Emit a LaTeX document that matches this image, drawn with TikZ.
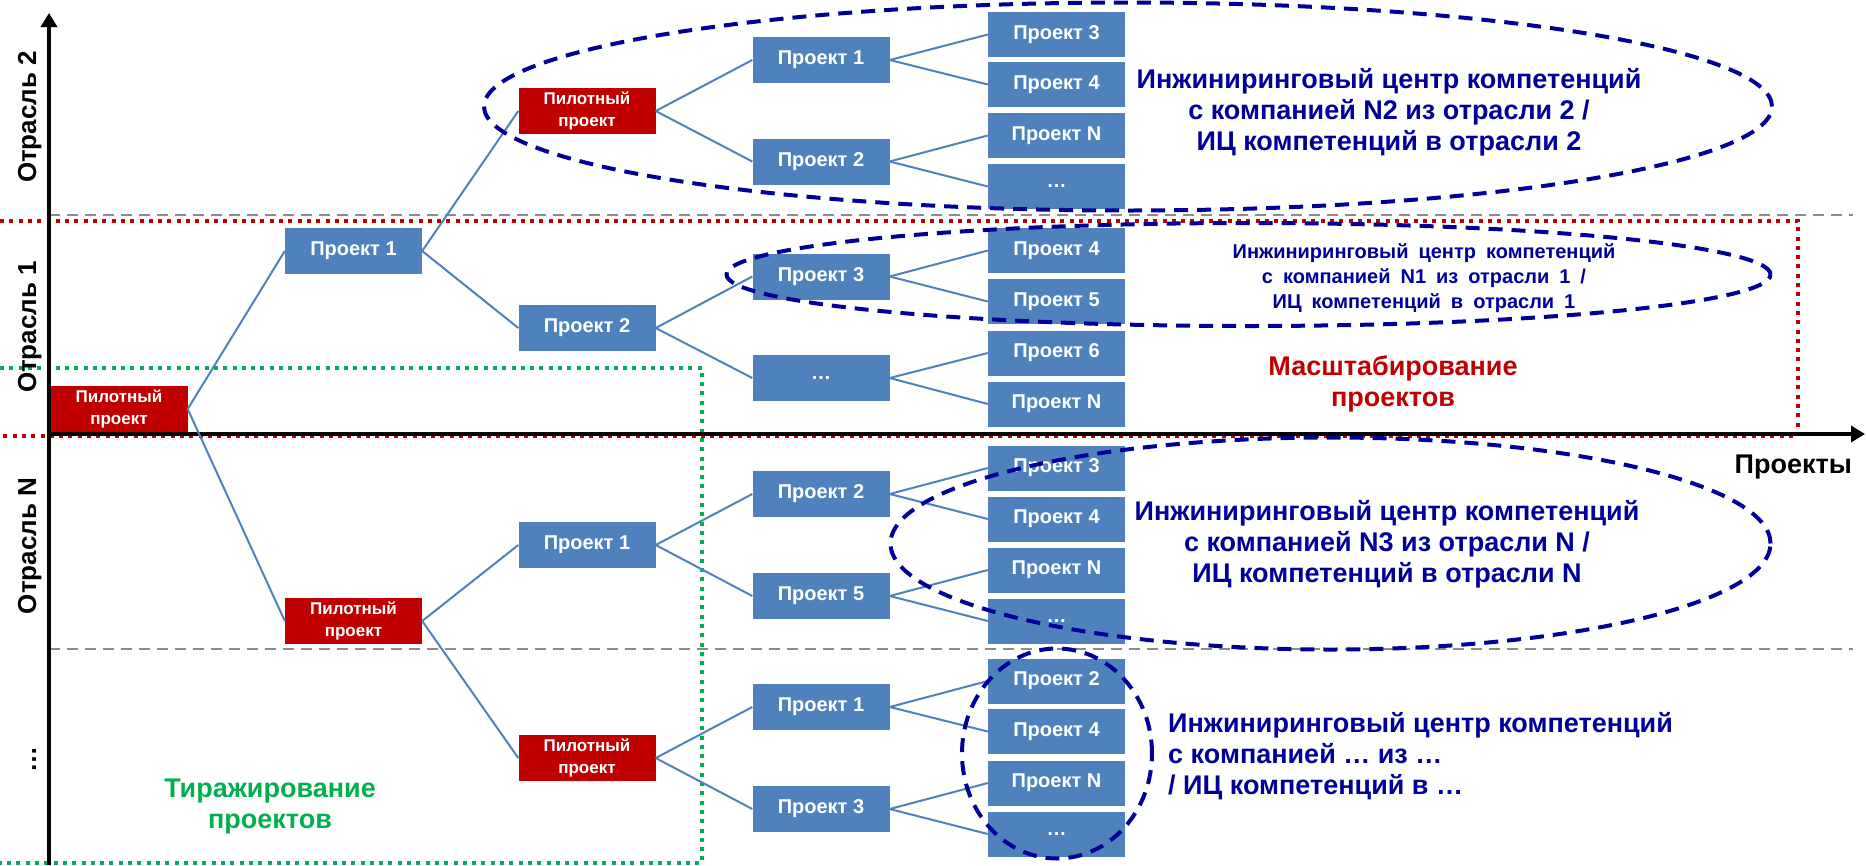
\documentclass[tikz,border=0pt]{standalone}
\usepackage{fontspec}
\setmainfont{Liberation Sans}
\usetikzlibrary{arrows.meta}
\definecolor{boxblue}{HTML}{4F81BD}
\definecolor{pilotred}{HTML}{C00000}
\definecolor{navy}{HTML}{000099}
\definecolor{grn}{HTML}{00B050}
\definecolor{gry}{HTML}{8C8C8C}
\newlength{\widespace}
\setlength{\widespace}{10pt}
\begin{document}
\begin{tikzpicture}[x=1pt,y=-1pt,
  proj/.style={rectangle, fill=boxblue, minimum width=137pt, minimum height=46pt, inner sep=0pt, text=white, font=\bfseries\fontsize{20}{24}\selectfont},
  leaf/.style={proj, minimum height=45pt},
  pilot/.style={proj, fill=pilotred, align=center, font=\bfseries\fontsize{17}{22}\selectfont},
  conn/.style={draw=boxblue, line width=2pt},
  axisline/.style={line width=3.5pt, -{Triangle[length=14pt,width=16pt]}},
  reddot/.style={draw=pilotred, line width=3.5pt, dash pattern=on 4pt off 5.3pt},
  grndot/.style={draw=grn, line width=3.5pt, dash pattern=on 4pt off 5.3pt},
  grydash/.style={draw=gry, line width=2.5pt, dash pattern=on 11pt off 7pt},
  hub/.style={draw=navy, line width=4pt, dash pattern=on 14pt off 9pt},
  hubtext/.style={text=navy, font=\bfseries\fontsize{27}{31}\selectfont, inner sep=0pt, anchor=base},
  smalltext/.style={text=navy, font=\bfseries\fontsize{20}{25}\selectfont, inner sep=0pt, anchor=base},
  sidelab/.style={rotate=90, anchor=base, inner sep=0pt, font=\bfseries\fontsize{26}{30}\selectfont},
  zonetext/.style={inner sep=0pt, anchor=base, font=\bfseries\fontsize{27}{31}\selectfont}
]
\useasboundingbox (0,0) rectangle (1866,865);

% zone guides
\draw[grydash] (49,215) -- (1853,215);
\draw[grydash] (49,649) -- (1853,649);
\draw[reddot] (0,221) -- (1798,221) -- (1798,436) -- (0,436);
\draw[grndot] (0,368) -- (702,368) -- (702,863) -- (0,863);

% axes
\coordinate (ybot) at (49,865);
\coordinate (ytop) at (49,13);
\coordinate (orig) at (49,434);
\coordinate (xend) at (1865,434);
\draw[axisline] (ybot) -- (ytop);
\draw[axisline] (orig) -- (xend);

% side labels
\node[sidelab] (s2) at (36,117) {Отрасль 2};
\node[sidelab] (s1) at (36,327) {Отрасль 1};
\node[sidelab] (sN) at (36,546) {Отрасль N};
\node[sidelab] (sx) at (36,759) {…};
\node[zonetext, anchor=base east] (xl) at (1852,473) {Проекты};

% tree
\node[pilot] (r0) at (119,409) {Пилотный\\проект};
\node[proj]  (a1) at (353.5,251) {Проект 1};
\node[pilot] (a2) at (353.5,621) {Пилотный\\проект};
\node[pilot] (b1) at (587,111) {Пилотный\\проект};
\node[proj]  (b2) at (587,328) {Проект 2};
\node[proj]  (b3) at (587,545) {Проект 1};
\node[pilot] (b4) at (587,758) {Пилотный\\проект};
\node[proj] (c1) at (821,60) {Проект 1};
\node[proj] (c2) at (821,161.5) {Проект 2};
\node[proj] (c3) at (821,276.5) {Проект 3};
\node[proj] (c4) at (821,378) {…};
\node[proj] (c5) at (821,494) {Проект 2};
\node[proj] (c6) at (821,596) {Проект 5};
\node[proj] (c7) at (821,707) {Проект 1};
\node[proj] (c8) at (821,809) {Проект 3};
\node[leaf] (d1) at (1056.5,34.5) {Проект 3};
\node[leaf] (d2) at (1056.5,84.5) {Проект 4};
\node[leaf] (d3) at (1056.5,135.5) {Проект N};
\node[leaf] (d4) at (1056.5,186.5) {…};
\node[leaf] (d5) at (1056.5,250.5) {Проект 4};
\node[leaf] (d6) at (1056.5,301.5) {Проект 5};
\node[leaf] (d7) at (1056.5,353) {Проект 6};
\node[leaf] (d8) at (1056.5,404) {Проект N};
\node[leaf] (d9) at (1056.5,468) {Проект 3};
\node[leaf] (d10) at (1056.5,519) {Проект 4};
\node[leaf] (d11) at (1056.5,570) {Проект N};
\node[leaf] (d12) at (1056.5,621) {…};
\node[leaf] (d13) at (1056.5,681) {Проект 2};
\node[leaf] (d14) at (1056.5,731.5) {Проект 4};
\node[leaf] (d15) at (1056.5,783) {Проект N};
\node[leaf] (d16) at (1056.5,834) {…};

\draw[conn] (r0.east) -- (a1.west);
\draw[conn] (r0.east) -- (a2.west);
\draw[conn] (a1.east) -- (b1.west);
\draw[conn] (a1.east) -- (b2.west);
\draw[conn] (a2.east) -- (b3.west);
\draw[conn] (a2.east) -- (b4.west);
\draw[conn] (b1.east) -- (c1.west);
\draw[conn] (b1.east) -- (c2.west);
\draw[conn] (b2.east) -- (c3.west);
\draw[conn] (b2.east) -- (c4.west);
\draw[conn] (b3.east) -- (c5.west);
\draw[conn] (b3.east) -- (c6.west);
\draw[conn] (b4.east) -- (c7.west);
\draw[conn] (b4.east) -- (c8.west);
\draw[conn] (c1.east) -- (d1.west);
\draw[conn] (c1.east) -- (d2.west);
\draw[conn] (c2.east) -- (d3.west);
\draw[conn] (c2.east) -- (d4.west);
\draw[conn] (c3.east) -- (d5.west);
\draw[conn] (c3.east) -- (d6.west);
\draw[conn] (c4.east) -- (d7.west);
\draw[conn] (c4.east) -- (d8.west);
\draw[conn] (c5.east) -- (d9.west);
\draw[conn] (c5.east) -- (d10.west);
\draw[conn] (c6.east) -- (d11.west);
\draw[conn] (c6.east) -- (d12.west);
\draw[conn] (c7.east) -- (d13.west);
\draw[conn] (c7.east) -- (d14.west);
\draw[conn] (c8.east) -- (d15.west);
\draw[conn] (c8.east) -- (d16.west);

% competence centres
\draw[hub] (1128,106.5) ellipse [x radius=644pt, y radius=104pt];
\draw[hub] (1248.5,274.5) ellipse [x radius=522pt, y radius=51.5pt];
\draw[hub] (1330.5,543.5) ellipse [x radius=440pt, y radius=106pt];
\draw[hub] (1057,753.5) ellipse [x radius=95pt, y radius=105pt];

\node[hubtext] (t1) at (1389,88) {\begin{tabular}[t]{@{}c@{}}Инжиниринговый центр компетенций\\с компанией N2 из отрасли 2 /\\ИЦ компетенций в отрасли 2\end{tabular}};
\node[smalltext] (t2) at (1424,258) {\spaceskip=\widespace\begin{tabular}[t]{@{}c@{}}Инжиниринговый центр компетенций\\с компанией N1 из отрасли 1 /\\ИЦ компетенций в отрасли 1\end{tabular}};
\node[hubtext] (t3) at (1387,520) {\begin{tabular}[t]{@{}c@{}}Инжиниринговый центр компетенций\\с компанией N3 из отрасли N /\\ИЦ компетенций в отрасли N\end{tabular}};
\node[hubtext, anchor=base west] (t4) at (1168,732) {\begin{tabular}[t]{@{}l@{}}Инжиниринговый центр компетенций\\с компанией … из …\\/ ИЦ компетенций в …\end{tabular}};

\node[zonetext, text=pilotred] (scal) at (1393,375) {\begin{tabular}[t]{@{}c@{}}Масштабирование\\проектов\end{tabular}};
\node[zonetext, text=grn] (repl) at (270,797) {\begin{tabular}[t]{@{}c@{}}Тиражирование\\проектов\end{tabular}};
\end{tikzpicture}
\end{document}
